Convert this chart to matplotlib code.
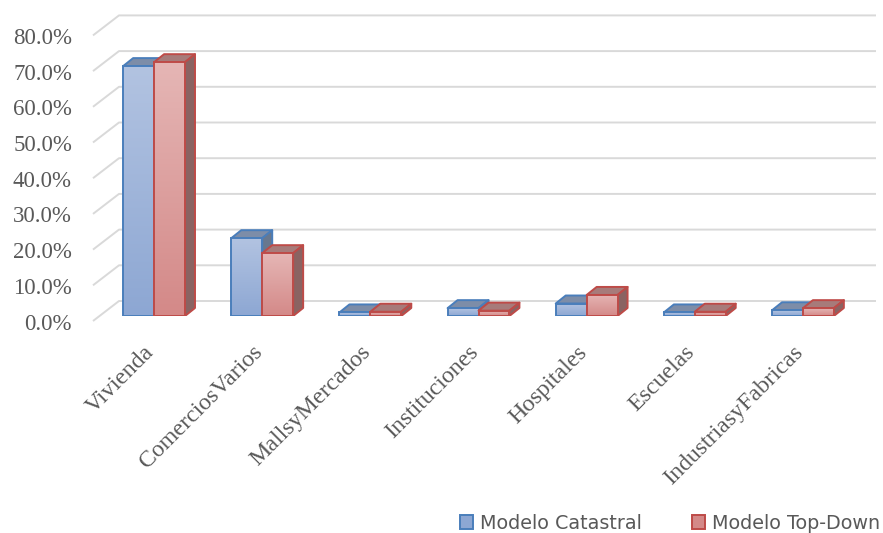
import numpy as np
import matplotlib.pyplot as plt
from matplotlib.patches import Polygon, Patch
from matplotlib.colors import LinearSegmentedColormap

# datos (porcentaje)
categorias = ['Vivienda', 'ComerciosVarios', 'MallsyMercados', 'Instituciones',
              'Hospitales', 'Escuelas', 'IndustriasyFabricas']
catastral = [70.0, 21.8, 1.0, 2.2, 3.5, 1.0, 1.6]
top_down = [71.1, 17.6, 1.2, 1.5, 5.9, 1.2, 2.2]
series = ['Modelo Catastral', 'Modelo Top-Down']
yticks = np.arange(0, 81, 10)

# estilos: (arriba, abajo, borde, tapa, lado)
estilos = [
    ('#B2C3E1', '#8DA7D3', '#4A7EBB', '#7D8DA8', '#68788F'),
    ('#E5B6B5', '#D48988', '#BE4B48', '#A77B7A', '#8A6362'),
]

W, H, DPI = 883, 533, 100
fig = plt.figure(figsize=(W / DPI, H / DPI), dpi=DPI)
left, right = 100, 857
bottom_px, top_px = 316, 316 - 8 * 35.7
ax = fig.add_axes([left / W, 1 - bottom_px / H, (right - left) / W,
                   (bottom_px - top_px) / H])
ax.axis('off')

n = len(categorias)
px_x = n / (right - left)
px_y = 80 / (bottom_px - top_px)
gris = '#595959'

# rejilla: pared del fondo + diagonal lateral
for v in yticks:
    fx, fy = -0.5 - 7 * px_x, v - 5 * px_y
    bx, by = -0.5 + 19 * px_x, v + 15 * px_y
    ex = n - 0.5 + 19 * px_x
    ax.plot([fx, bx, ex], [fy, by, by], color='#D9D9D9', lw=1.4,
            clip_on=False, zorder=1, solid_capstyle='butt')
    ax.text(fx - 21 * px_x, fy - 3 * px_y, f'{v:.1f}%', ha='right', va='center',
            fontsize=16.5, family='Liberation Serif', color=gris)

width = 0.286
dx, dy = 10 * px_x, 8 * px_y
grad = np.linspace(0, 1, 128).reshape(-1, 1)
x = np.arange(n)

for j, vals in enumerate([catastral, top_down]):
    c_top, c_bot, c_edge, c_tapa, c_lado = estilos[j]
    cmap = LinearSegmentedColormap.from_list('g%d' % j, [c_bot, c_top])
    bars = ax.bar(x - width / 2 + j * width, vals, width, color='none',
                  edgecolor=c_edge, lw=1.4)
    for i, b in enumerate(bars):
        z = 2 + i * 10 + j * 4
        x0, x1, h = b.get_x(), b.get_x() + b.get_width(), b.get_height()
        ax.add_patch(Polygon([(x0, h), (x1, h), (x1 + dx, h + dy), (x0 + dx, h + dy)],
                             closed=True, fc=c_tapa, ec=c_edge, lw=1.4, zorder=z,
                             joinstyle='round'))
        ax.add_patch(Polygon([(x1, 0), (x1 + dx, dy), (x1 + dx, h + dy), (x1, h)],
                             closed=True, fc=c_lado, ec=c_edge, lw=1.4, zorder=z + 1,
                             joinstyle='round'))
        im = ax.imshow(grad, extent=[x0, x1, 0, h], origin='lower', cmap=cmap,
                       aspect='auto', zorder=z + 2)
        im.set_clip_path(b)
        b.set_zorder(z + 3)

ax.set_xlim(-0.5, n - 0.5)
ax.set_ylim(0, 80)

for i, nombre in enumerate(categorias):
    ax.text(i - 3 * px_x, -33 * px_y, nombre, rotation=45, ha='right', va='center',
            rotation_mode='anchor', fontsize=17.2, family='Liberation Serif', color=gris)

handles = [Patch(fc=estilos[k][1], ec=estilos[k][2], lw=1.4) for k in range(2)]
fig.legend(handles, series, loc='lower right', bbox_to_anchor=(1.016, -0.032), ncol=2,
           frameon=False, fontsize=13.8, handlelength=0.7, handleheight=0.7,
           handletextpad=0.35, columnspacing=2.6, labelcolor=gris)

fig.savefig('out.png', dpi=DPI)
